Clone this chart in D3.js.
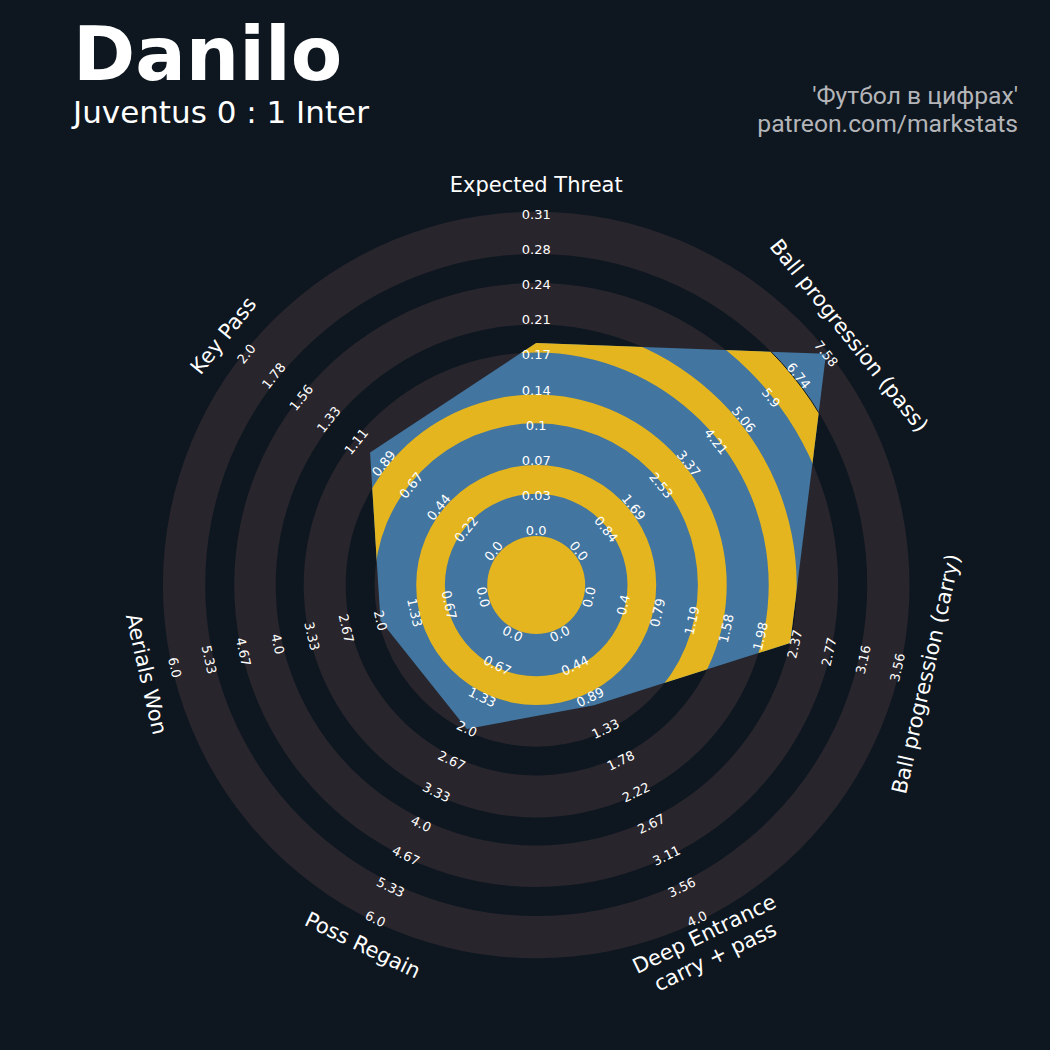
<!DOCTYPE html>
<html>
<head>
<meta charset="utf-8">
<script src="https://cdn.jsdelivr.net/npm/d3@7"></script>
<style>
  html, body { margin: 0; padding: 0; background: #0e1720; }
  svg { display: block; }
</style>
</head>
<body>
<script>
// ---------------- data ----------------
const params = ["Expected Threat", "Ball progression (pass)", "Ball progression (carry)",
  "Deep Entrance\ncarry + pass", "Poss Regain", "Aerials Won", "Key Pass"];
const lowValues  = [0, 0, 0, 0, 0, 0, 0];
const highValues = [0.31, 7.58, 3.56, 4.0, 6.0, 6.0, 2.0];
const playerValues = [0.184, 7.58, 2.32, 1.0, 2.0, 2.0, 1.0];
const rangeLabels = [
  ["0.0","0.03","0.07","0.1","0.14","0.17","0.21","0.24","0.28","0.31"],
  ["0.0","0.84","1.69","2.53","3.37","4.21","5.06","5.9","6.74","7.58"],
  ["0.0","0.4","0.79","1.19","1.58","1.98","2.37","2.77","3.16","3.56"],
  ["0.0","0.44","0.89","1.33","1.78","2.22","2.67","3.11","3.56","4.0"],
  ["0.0","0.67","1.33","2.0","2.67","3.33","4.0","4.67","5.33","6.0"],
  ["0.0","0.67","1.33","2.0","2.67","3.33","4.0","4.67","5.33","6.0"],
  ["0.0","0.22","0.44","0.67","0.89","1.11","1.33","1.56","1.78","2.0"]
];
const titleText = "Danilo";
const subtitleText = "Juventus 0 : 1 Inter";
const creditLines = ["'Футбол в цифрах'", "patreon.com/markstats"];

// ---------------- layout ----------------
const W = 1050, H = 1050;
const cx = 536.2, cy = 585;
const BG = "#0e1720", RING = "#28252c", BLUE = "#42759f", YELLOW = "#e4b51e";
// ring boundaries (px)
const bounds = [49, 91.3, 120, 161.7, 190.5, 232.5, 260.5, 302, 331, 373.3];
const rMin = 54.3, rMax = 370.7, rLabel = 400;

const n = params.length;
const angleDeg = d3.range(n).map(i => i * 360 / n);
const rad = a => a * Math.PI / 180;
const pt = (aDeg, r) => [cx + r * Math.sin(rad(aDeg)), cy - r * Math.cos(rad(aDeg))];
const rotFor = a => (a > 90 && a < 270) ? a - 180 : a;

const scales = params.map((p, i) => d3.scaleLinear()
  .domain([lowValues[i], highValues[i]]).range([rMin, rMax]).clamp(true));
const labelPos = d3.scaleLinear().domain([0, 9]).range([rMin, rMax]);

const svg = d3.select("body").append("svg").attr("width", W).attr("height", H);
svg.append("rect").attr("width", W).attr("height", H).attr("fill", BG);

// background rings
const arc = d3.arc().startAngle(0).endAngle(2 * Math.PI);
const gBack = svg.append("g").attr("transform", `translate(${cx},${cy})`);
gBack.append("circle").attr("r", bounds[0]).attr("fill", RING);
for (let k = 0; k < 5; k++) {
  gBack.append("path").attr("d", arc({innerRadius: bounds[2 * k], outerRadius: bounds[2 * k + 1]}))
    .attr("fill", RING);
}

// radar polygon
const verts = playerValues.map((v, i) => pt(angleDeg[i], scales[i](v)));
const polyStr = verts.map(p => p.join(",")).join(" ");
const defs = svg.append("defs");
defs.append("clipPath").attr("id", "radarClip").append("polygon").attr("points", polyStr);
svg.append("polygon").attr("points", polyStr).attr("fill", BLUE);
const gRings = svg.append("g").attr("clip-path", "url(#radarClip)")
  .append("g").attr("transform", `translate(${cx},${cy})`);
gRings.append("circle").attr("r", bounds[0]).attr("fill", YELLOW);
for (let k = 0; k < 4; k++) {
  gRings.append("path").attr("d", arc({innerRadius: bounds[2 * k + 1], outerRadius: bounds[2 * k + 2]}))
    .attr("fill", YELLOW);
}
gRings.append("circle").attr("r", bounds[8]).attr("fill", "none")
  .attr("stroke", BG).attr("stroke-width", 1);

// range labels
const gLab = svg.append("g").attr("font-family", "DejaVu Sans").attr("font-size", 13)
  .attr("fill", "#ffffff").attr("text-anchor", "middle");
params.forEach((p, i) => {
  rangeLabels[i].forEach((t, k) => {
    const [x, y] = pt(angleDeg[i], labelPos(k));
    gLab.append("text").attr("transform", `translate(${x},${y}) rotate(${rotFor(angleDeg[i])})`)
      .attr("dominant-baseline", "central").text(t);
  });
});

// param labels
const gPar = svg.append("g").attr("font-family", "DejaVu Sans").attr("font-size", 21)
  .attr("fill", "#ffffff").attr("text-anchor", "middle");
params.forEach((p, i) => {
  const [x, y] = pt(angleDeg[i], rLabel);
  const lines = p.split("\n");
  const t = gPar.append("text").attr("transform", `translate(${x},${y}) rotate(${rotFor(angleDeg[i])})`)
    .attr("dominant-baseline", "central");
  const lh = 25;
  lines.forEach((ln, j) => {
    t.append("tspan").attr("x", 0).attr("y", (j - (lines.length - 1) / 2) * lh).text(ln);
  });
});

// titles
svg.append("text").attr("x", 73).attr("y", 80).attr("font-family", "DejaVu Sans")
  .attr("font-weight", "bold").attr("font-size", 75).attr("fill", "#ffffff").text(titleText);
svg.append("text").attr("x", 73).attr("y", 123).attr("font-family", "DejaVu Sans")
  .attr("font-size", 31).attr("fill", "#ffffff").text(subtitleText);
creditLines.forEach((ln, j) => {
  svg.append("text").attr("x", 1018).attr("y", 104 + j * 28).attr("text-anchor", "end")
    .attr("font-family", "Roboto").attr("font-size", 24.7).attr("fill", "#b4b5b9").text(ln);
});
</script>
</body>
</html>
